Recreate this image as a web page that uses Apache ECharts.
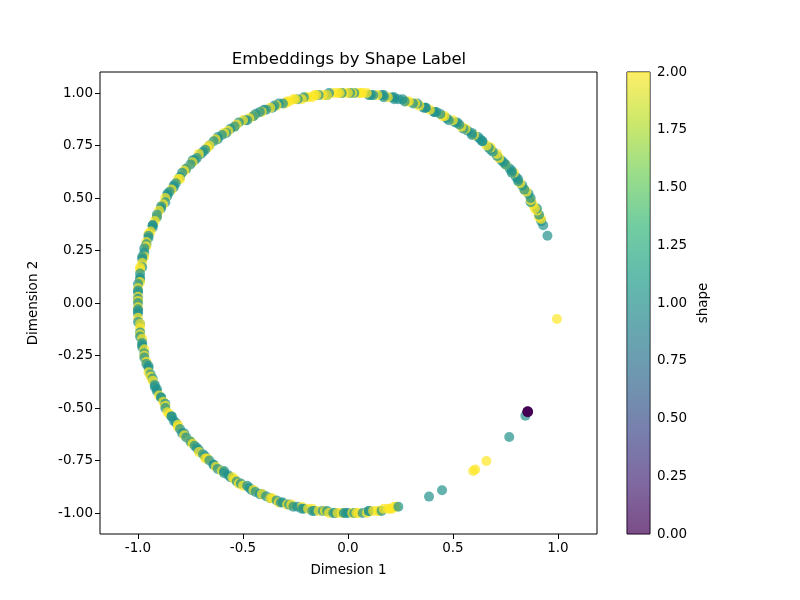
<!DOCTYPE html>
<html>
<head>
<meta charset="utf-8">
<title>Embeddings by Shape Label</title>
<style>
  * { margin: 0; padding: 0; }
  #chart { width: 800px; height: 600px; }
</style>
</head>
<body>
<div id="chart"></div>
<script src="https://cdn.jsdelivr.net/npm/echarts@6/dist/echarts.min.js"></script>
<script>
// [x, y, shape], going round the ring counter-clockwise
var arcPts = [
  [0.93,0.37,1],[0.92,0.39,1],[0.91,0.41,2],[0.91,0.42,1],[0.90,0.44,2],[0.89,0.45,2],[0.88,0.47,2],[0.87,0.48,1],
  [0.87,0.50,1],[0.86,0.52,1],[0.85,0.53,2],[0.84,0.54,1],[0.83,0.56,1],[0.82,0.57,2],[0.81,0.59,1],[0.80,0.60,1],
  [0.79,0.62,2],[0.78,0.63,1],[0.77,0.64,1],[0.75,0.66,2],[0.74,0.67,1],[0.73,0.68,1],[0.72,0.69,2],[0.71,0.71,2],
  [0.69,0.72,1],[0.68,0.73,1],[0.67,0.74,1],[0.66,0.75,2],[0.64,0.77,1],[0.63,0.78,1],[0.62,0.79,1],[0.60,0.80,2],
  [0.59,0.81,1],[0.57,0.82,1],[0.56,0.83,2],[0.54,0.84,2],[0.53,0.85,1],[0.52,0.86,1],[0.50,0.87,2],[0.48,0.87,1],
  [0.47,0.88,1],[0.45,0.89,2],[0.44,0.90,1],[0.42,0.91,1],[0.41,0.91,1],[0.39,0.92,2],[0.37,0.93,1],[0.36,0.93,1],
  [0.34,0.94,2],[0.33,0.95,1],[0.31,0.95,1],[0.29,0.96,2],[0.28,0.96,2],[0.26,0.97,1],[0.24,0.97,1],[0.22,0.97,1],
  [0.21,0.98,1],[0.19,0.98,2],[0.17,0.98,1],[0.16,0.99,1],[0.14,0.99,2],[0.12,0.99,1],[0.10,0.99,1],[0.09,1.00,2],
  [0.07,1.00,2],[0.05,1.00,2],[0.03,1.00,1],[0.02,1.00,2],[0.00,1.00,2],
  [-0.02,1.00,2],[-0.03,1.00,1],[-0.05,1.00,2],[-0.07,1.00,2],[-0.09,1.00,1],[-0.10,0.99,2],[-0.12,0.99,2],[-0.14,0.99,1],
  [-0.16,0.99,2],[-0.17,0.98,2],[-0.19,0.98,2],[-0.21,0.98,1],[-0.22,0.97,2],[-0.24,0.97,1],[-0.26,0.97,2],[-0.28,0.96,2],
  [-0.29,0.96,2],[-0.31,0.95,1],[-0.33,0.95,1],[-0.34,0.94,2],[-0.36,0.93,1],[-0.37,0.93,2],[-0.39,0.92,1],[-0.41,0.91,2],
  [-0.42,0.91,1],[-0.44,0.90,1],[-0.45,0.89,1],[-0.47,0.88,2],[-0.48,0.87,1],[-0.50,0.87,2],[-0.52,0.86,1],[-0.53,0.85,2],
  [-0.54,0.84,1],[-0.56,0.83,1],[-0.57,0.82,2],[-0.59,0.81,2],[-0.60,0.80,1],[-0.62,0.79,1],[-0.63,0.78,2],[-0.64,0.77,1],
  [-0.66,0.75,1],[-0.67,0.74,2],[-0.68,0.73,1],[-0.69,0.72,1],[-0.71,0.71,2],[-0.72,0.69,1],[-0.73,0.68,1],[-0.74,0.67,2],
  [-0.75,0.66,1],[-0.77,0.64,2],[-0.78,0.63,2],[-0.79,0.62,1],[-0.80,0.60,1],[-0.81,0.59,2],[-0.82,0.57,1],[-0.83,0.56,1],
  [-0.84,0.54,2],[-0.85,0.53,1],[-0.86,0.52,1],[-0.87,0.50,2],[-0.87,0.48,1],[-0.88,0.47,2],[-0.89,0.45,1],[-0.90,0.44,2],
  [-0.91,0.42,1],[-0.91,0.41,1],[-0.92,0.39,2],[-0.93,0.37,1],[-0.93,0.36,1],[-0.94,0.34,2],[-0.95,0.33,2],[-0.95,0.31,1],
  [-0.96,0.29,2],[-0.96,0.28,1],[-0.97,0.26,1],[-0.97,0.24,1],[-0.97,0.22,2],[-0.98,0.21,1],[-0.98,0.19,2],[-0.98,0.17,1],
  [-0.99,0.16,2],[-0.99,0.14,1],[-0.99,0.12,1],[-0.99,0.10,2],[-1.00,0.09,1],[-1.00,0.07,2],[-1.00,0.05,1],[-1.00,0.03,2],
  [-1.00,0.02,1],[-1.00,0.00,1],
  [-1.00,-0.02,2],[-1.00,-0.03,1],[-1.00,-0.05,1],[-1.00,-0.07,2],[-1.00,-0.09,1],[-0.99,-0.10,2],[-0.99,-0.12,2],[-0.99,-0.14,1],
  [-0.99,-0.16,1],[-0.98,-0.17,2],[-0.98,-0.19,1],[-0.98,-0.21,1],[-0.97,-0.22,2],[-0.97,-0.24,1],[-0.97,-0.26,1],[-0.96,-0.28,2],
  [-0.96,-0.29,1],[-0.95,-0.31,1],[-0.95,-0.33,2],[-0.94,-0.34,1],[-0.93,-0.36,1],[-0.93,-0.37,2],[-0.92,-0.39,1],[-0.91,-0.41,1],
  [-0.91,-0.42,1],[-0.90,-0.44,2],[-0.89,-0.45,1],[-0.88,-0.47,2],[-0.87,-0.48,1],[-0.87,-0.50,1],[-0.86,-0.52,2],[-0.85,-0.53,2],
  [-0.84,-0.54,1],[-0.83,-0.56,1],[-0.82,-0.57,1],[-0.81,-0.59,2],[-0.80,-0.60,1],[-0.79,-0.62,1],[-0.78,-0.63,2],[-0.77,-0.64,1],
  [-0.75,-0.66,2],[-0.74,-0.67,2],[-0.73,-0.68,1],[-0.72,-0.69,1],[-0.71,-0.71,2],[-0.69,-0.72,1],[-0.68,-0.73,1],[-0.67,-0.74,2],
  [-0.66,-0.75,1],[-0.64,-0.77,1],[-0.63,-0.78,2],[-0.62,-0.79,1],[-0.60,-0.80,2],[-0.59,-0.81,1],[-0.57,-0.82,1],[-0.56,-0.83,1],
  [-0.54,-0.84,2],[-0.53,-0.85,1],[-0.52,-0.86,2],[-0.50,-0.87,2],[-0.48,-0.87,1],[-0.47,-0.88,1],[-0.45,-0.89,2],[-0.44,-0.90,1],
  [-0.42,-0.91,1],[-0.41,-0.91,2],[-0.39,-0.92,1],[-0.37,-0.93,1],[-0.36,-0.93,2],[-0.34,-0.94,1],[-0.33,-0.95,2],[-0.31,-0.95,1],
  [-0.29,-0.96,2],[-0.28,-0.96,1],[-0.26,-0.97,1],[-0.24,-0.97,1],[-0.22,-0.97,2],[-0.21,-0.98,1],[-0.19,-0.98,2],[-0.17,-0.98,2],
  [-0.16,-0.99,1],[-0.14,-0.99,2],[-0.12,-0.99,1],[-0.10,-0.99,1],[-0.09,-1.00,2],[-0.07,-1.00,1],[-0.05,-1.00,2],[-0.03,-1.00,2],
  [-0.02,-1.00,1],[0.00,-1.00,1],
  [0.02,-1.00,2],[0.03,-1.00,1],[0.05,-1.00,2],[0.07,-1.00,1],[0.09,-1.00,2],[0.10,-0.99,1],[0.12,-0.99,2],[0.14,-0.99,2],
  [0.16,-0.99,1],[0.17,-0.98,2],[0.19,-0.98,2],[0.21,-0.98,2],[0.22,-0.97,2],[0.23,-0.97,2],[0.24,-0.97,1]
];

// second pass of ring points, filling between the first ones
var arcPts2 = [
  [0.92,0.40,2],[0.90,0.45,1],[0.87,0.49,2],[0.84,0.54,2],[0.81,0.58,1],[0.78,0.62,1],[0.75,0.66,1],[0.71,0.70,1],
  [0.68,0.74,2],[0.64,0.77,1],[0.59,0.80,1],[0.55,0.83,1],[0.51,0.86,1],[0.46,0.89,2],[0.41,0.91,1],[0.37,0.93,1],
  [0.32,0.95,2],[0.27,0.96,1],[0.22,0.98,1],[0.17,0.99,1],[0.11,0.99,1],[0.06,1.00,2],[0.01,1.00,1],
  [-0.04,1.00,2],[-0.10,0.99,1],[-0.15,0.99,2],[-0.20,0.98,2],[-0.25,0.97,2],[-0.30,0.95,2],[-0.35,0.94,1],[-0.40,0.92,1],
  [-0.45,0.89,2],[-0.49,0.87,1],[-0.54,0.84,2],[-0.58,0.81,1],[-0.62,0.78,1],[-0.66,0.75,2],[-0.70,0.71,1],[-0.74,0.68,1],
  [-0.77,0.64,1],[-0.80,0.59,2],[-0.83,0.55,1],[-0.86,0.51,1],[-0.89,0.46,1],[-0.91,0.41,2],[-0.93,0.37,1],[-0.95,0.32,1],
  [-0.96,0.27,2],[-0.98,0.22,1],[-0.99,0.17,2],[-0.99,0.11,1],[-1.00,0.06,1],[-1.00,0.01,2],
  [-1.00,-0.04,1],[-0.99,-0.10,1],[-0.99,-0.15,2],[-0.98,-0.20,1],[-0.97,-0.25,2],[-0.95,-0.30,1],[-0.94,-0.35,2],[-0.92,-0.40,1],
  [-0.89,-0.45,1],[-0.87,-0.49,2],[-0.84,-0.54,1],[-0.81,-0.58,2],[-0.78,-0.62,1],[-0.75,-0.66,1],[-0.71,-0.70,1],[-0.68,-0.74,2],
  [-0.64,-0.77,1],[-0.59,-0.80,1],[-0.55,-0.83,2],[-0.51,-0.86,1],[-0.46,-0.89,1],[-0.41,-0.91,1],[-0.37,-0.93,2],[-0.32,-0.95,1],
  [-0.27,-0.96,2],[-0.22,-0.98,1],[-0.17,-0.99,1],[-0.11,-0.99,2],[-0.06,-1.00,1],[-0.01,-1.00,1],
  [0.04,-1.00,2],[0.10,-0.99,1],[0.15,-0.99,2],[0.20,-0.98,2]
];

// points off the ring
var strayPts = [
  [0.95,0.32,1],[0.995,-0.076,2],[0.845,-0.537,1],[0.768,-0.638,1],[0.659,-0.752,2],
  [0.596,-0.800,2],[0.606,-0.793,2],[0.448,-0.892,1],[0.386,-0.922,1]
];

// shape 0 cluster, many points stacked on one spot
var shapeZeroPts = [
  [0.856,-0.518,0],[0.855,-0.516,0],[0.857,-0.520,0],[0.854,-0.519,0],[0.858,-0.517,0],[0.856,-0.518,0]
];

var xTicks = [-1.0, -0.5, 0.0, 0.5, 1.0];
var yTicks = [-1.0, -0.75, -0.5, -0.25, 0.0, 0.25, 0.5, 0.75, 1.0];
var cbarTicks = [0, 0.25, 0.5, 0.75, 1.0, 1.25, 1.5, 1.75, 2.0];

var shapeColors = ['#440154', '#21918c', '#fde725'];
var viridis = ['#440154', '#482878', '#3e4989', '#31688e', '#26828e',
               '#1f9e89', '#35b779', '#6ece58', '#b5de2b', '#fde725'];

var myChart = echarts.init(document.getElementById('chart'), null, { renderer: 'canvas' });

var font = 'DejaVu Sans';
var labelStyle = { color: '#000', fontFamily: font, fontSize: 13.5 };

// mix the two ring passes so colours interleave like the original draw order
var ringData = [];
for (var i = 0; i < arcPts.length; i++) {
  ringData.push(arcPts[i]);
  if (i % 3 === 1 && arcPts2[(i - 1) / 3]) ringData.push(arcPts2[(i - 1) / 3]);
}

var option = {
  animation: false,
  backgroundColor: '#fff',
  title: {
    text: 'Embeddings by Shape Label',
    left: 344,
    top: 46,
    textAlign: 'center',
    textStyle: { color: '#000', fontFamily: font, fontSize: 16.5, fontWeight: 'normal' }
  },
  grid: [
    { left: 100, top: 72, width: 497, height: 462, show: true, borderColor: '#000', borderWidth: 1, backgroundColor: 'transparent' },
    { left: 627, top: 72, width: 23, height: 462, show: true, borderColor: '#000', borderWidth: 1, backgroundColor: 'transparent' }
  ],
  xAxis: [{
    gridIndex: 0,
    type: 'value',
    min: -1.181,
    max: 1.186,
    name: 'Dimesion 1',
    nameLocation: 'middle',
    nameGap: 29,
    nameTextStyle: labelStyle,
    splitLine: { show: false },
    axisLine: { show: false, onZero: false },
    axisTick: { length: 5, lineStyle: { color: '#000' }, customValues: xTicks },
    axisLabel: Object.assign({ margin: 7, customValues: xTicks, formatter: function (v) { return v.toFixed(1); } }, labelStyle)
  }, {
    gridIndex: 1,
    type: 'category',
    data: ['shape'],
    show: false
  }],
  yAxis: [{
    gridIndex: 0,
    type: 'value',
    min: -1.1,
    max: 1.1,
    name: 'Dimension 2',
    nameLocation: 'middle',
    nameGap: 60,
    nameTextStyle: labelStyle,
    splitLine: { show: false },
    axisLine: { show: false, onZero: false },
    axisTick: { length: 5, lineStyle: { color: '#000' }, customValues: yTicks },
    axisLabel: Object.assign({ margin: 7, customValues: yTicks, formatter: function (v) { return v.toFixed(2); } }, labelStyle)
  }, {
    gridIndex: 1,
    type: 'value',
    position: 'right',
    min: 0,
    max: 2,
    name: 'shape',
    nameLocation: 'middle',
    nameRotate: 90,
    nameGap: 46,
    nameTextStyle: labelStyle,
    splitLine: { show: false },
    axisLine: { show: false, onZero: false },
    axisTick: { length: 5, lineStyle: { color: '#000' }, customValues: cbarTicks },
    axisLabel: Object.assign({ margin: 7, customValues: cbarTicks, formatter: function (v) { return v.toFixed(2); } }, labelStyle)
  }],
  series: [{
    type: 'scatter',
    xAxisIndex: 0,
    yAxisIndex: 0,
    symbolSize: 10,
    itemStyle: {
      opacity: 0.7,
      color: function (p) { return shapeColors[p.data[2]]; }
    },
    data: ringData.concat(strayPts).concat(shapeZeroPts)
  }, {
    type: 'bar',
    xAxisIndex: 1,
    yAxisIndex: 1,
    barWidth: '100%',
    silent: true,
    itemStyle: {
      opacity: 0.7,
      color: new echarts.graphic.LinearGradient(0, 1, 0, 0, viridis.map(function (c, i) {
        return { offset: i / (viridis.length - 1), color: c };
      }))
    },
    data: [2]
  }]
};

myChart.setOption(option);
window.addEventListener('resize', myChart.resize);
</script>
</body>
</html>
